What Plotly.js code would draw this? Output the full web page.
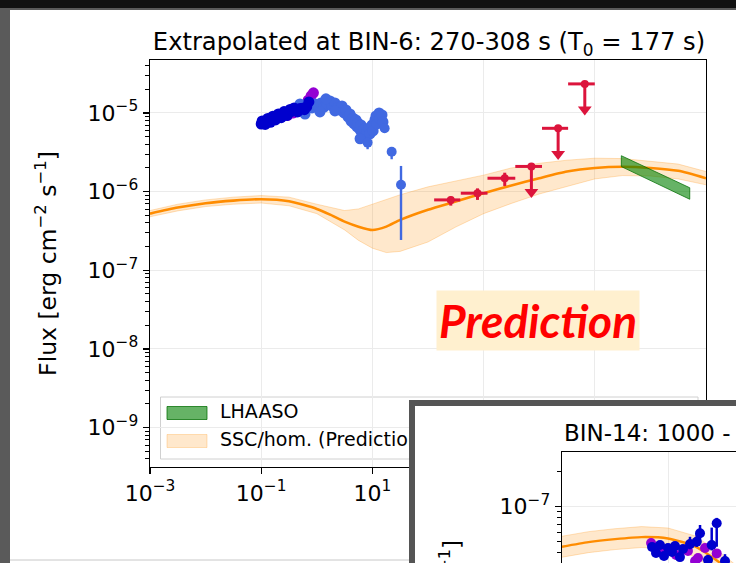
<!DOCTYPE html>
<html>
<head>
<meta charset="utf-8">
<script src="https://cdn.plot.ly/plotly-3.0.1.min.js"></script>
<style>
  html, body { margin: 0; padding: 0; background: #111; }
  #chart { width: 736px; height: 563px; }
</style>
</head>
<body>
<div id="chart"></div>
<script>
// ---------------- data: main panel (E in keV, flux in erg cm^-2 s^-1) ----------------

// SSC / homogeneous model: central curve and uncertainty band
const modelE     = [1e-3, 3.16e-3, 1e-2, 3.16e-2, 0.1, 0.316, 1, 1.78, 3.16, 5.62, 10, 17.8, 31.6, 100, 316, 1e3, 3.16e3, 1e4, 3.16e4, 1e5, 3.16e5, 1e6, 3.16e6, 1e7];
const modelF     = [5.25e-7, 6.27e-7, 7.13e-7, 7.69e-7, 8.0e-7, 7.55e-7, 6.03e-7, 5.06e-7, 4.16e-7, 3.59e-7, 3.26e-7, 3.59e-7, 4.37e-7, 5.89e-7, 7.5e-7, 9.55e-7, 1.2e-6, 1.48e-6, 1.8e-6, 2.0e-6, 2.07e-6, 2.0e-6, 1.84e-6, 1.48e-6];
const modelUpper = [5.75e-7, 6.92e-7, 7.85e-7, 8.51e-7, 8.91e-7, 8.51e-7, 6.92e-7, 6.31e-7, 5.75e-7, 6.03e-7, 6.92e-7, 7.94e-7, 9.12e-7, 1.15e-6, 1.35e-6, 1.62e-6, 2.0e-6, 2.29e-6, 2.51e-6, 2.66e-6, 2.63e-6, 2.45e-6, 2.24e-6, 1.8e-6];
const modelLower = [4.79e-7, 5.69e-7, 6.46e-7, 6.92e-7, 7.16e-7, 6.61e-7, 5.25e-7, 4.17e-7, 3.26e-7, 2.4e-7, 1.91e-7, 1.68e-7, 1.74e-7, 2.29e-7, 3.55e-7, 5.25e-7, 7.08e-7, 9.33e-7, 1.17e-6, 1.45e-6, 1.6e-6, 1.58e-6, 1.45e-6, 1.22e-6];

// X-ray spectrum, three instruments
const purpleE = [0.30, 0.38, 0.48, 0.60, 0.70, 0.79, 0.87];
const purpleF = [9.3e-6, 1.0e-5, 1.06e-5, 1.25e-5, 1.45e-5, 1.65e-5, 1.8e-5];

const royalE = [0.44, 0.499, 0.565, 0.64, 0.724, 0.82, 0.929, 1.052, 1.19, 1.35, 1.52, 1.73, 1.87, 2.12, 2.31, 2.61, 2.84, 3.08, 3.35, 3.64, 3.95, 4.12, 4.48, 4.67, 5.07, 5.28, 5.51, 5.98, 6.24, 6.50, 7.06, 7.36, 8.0, 8.69, 9.06, 9.84, 10.3, 11.1, 11.6, 12.1, 13.2, 13.7, 14.9, 15.5, 0.614, 1.14, 2.12, 1.46, 6.0];
const royalF = [1.158e-5, 1.30e-5, 1.09e-5, 1.227e-5, 1.34e-5, 1.158e-5, 1.30e-5, 1.227e-5, 1.34e-5, 1.19e-5, 1.30e-5, 1.42e-5, 1.227e-5, 1.34e-5, 1.158e-5, 1.09e-5, 1.227e-5, 1.0e-5, 1.09e-5, 8.9e-6, 9.7e-6, 7.9e-6, 8.6e-6, 7.25e-6, 8.15e-6, 6.64e-6, 7.46e-6, 6.08e-6, 7.05e-6, 5.41e-6, 6.27e-6, 5.1e-6, 5.74e-6, 6.45e-6, 5.41e-6, 7.05e-6, 5.9e-6, 8.15e-6, 9.16e-6, 7.25e-6, 1.0e-5, 8.4e-6, 9.44e-6, 7.69e-6, 9.7e-6, 1.03e-5, 1.06e-5, 1.51e-5, 4.7e-6];

// isolated high-energy X-ray bins with visible error bars
const royalErrE  = [8.2, 16.6, 22.2, 32.7];
const royalErrF  = [4.2e-6, 6.4e-6, 3.22e-6, 1.22e-6];
const royalErrLo = [3.46e-6, 5.6e-6, 2.58e-6, 2.43e-7];
const royalErrHi = [4.76e-6, 7.2e-6, 3.66e-6, 2.12e-6];

const darkE = [0.100, 0.105, 0.110, 0.116, 0.122, 0.128, 0.135, 0.142, 0.150, 0.158, 0.167, 0.176, 0.186, 0.197, 0.209, 0.222, 0.236, 0.251, 0.267, 0.285, 0.305, 0.327, 0.350, 0.376, 0.405, 0.437, 0.47, 0.51, 0.55, 0.60, 0.66, 0.72,
               0.104, 0.118, 0.131, 0.146, 0.162, 0.181, 0.203, 0.229, 0.258, 0.292, 0.33, 0.39, 0.45];
const darkF = [7.24e-6, 7.4e-6, 7.5e-6, 7.6e-6, 7.75e-6, 7.85e-6, 7.95e-6, 8.1e-6, 8.2e-6, 8.4e-6, 8.5e-6, 8.7e-6, 8.8e-6, 9.0e-6, 9.1e-6, 9.3e-6, 9.45e-6, 9.65e-6, 9.8e-6, 1.0e-5, 1.01e-5, 1.035e-5, 1.05e-5, 1.07e-5, 1.085e-5, 1.11e-5, 1.12e-5, 1.135e-5, 1.15e-5, 1.10e-5, 1.2e-5, 1.38e-5,
               7.9e-6, 7.15e-6, 8.5e-6, 7.6e-6, 9.1e-6, 8.15e-6, 9.7e-6, 8.7e-6, 1.04e-5, 9.3e-6, 1.11e-5, 1.16e-5, 1.03e-5];

// GeV detections (binned) and upper limits
const detE   = [257, 776, 2400];
const detElo = [129, 389, 1175];
const detEhi = [380, 1175, 3715];
const detF   = [7.85e-7, 9.55e-7, 1.48e-6];
const detFlo = [6.64e-7, 7.85e-7, 1.18e-6];
const detFhi = [8.65e-7, 1.10e-6, 1.74e-6];

const ulE   = [7240, 21900, 66100];
const ulElo = [3715, 11220, 33110];
const ulEhi = [11220, 33110, 100000];
const ulF   = [2.09e-6, 6.38e-6, 2.34e-5];

// LHAASO butterfly: energy ends, upper / lower flux edge
const lhaasoE  = [3.0e5, 5.1e6];
const lhaasoHi = [2.86e-6, 1.12e-6];
const lhaasoLo = [2.08e-6, 8.0e-7];

// ---------------- data: second panel (BIN-14) ----------------
const insetModelE = [1e-3, 3.16e-3, 1e-2, 3.16e-2, 0.1, 0.316, 1, 2];
const insetModelF = [4.52e-8, 4.95e-8, 5.25e-8, 5.47e-8, 5.32e-8, 4.57e-8, 3.24e-8, 2.51e-8];
const insetUpper  = [5.56e-8, 6.09e-8, 6.46e-8, 6.73e-8, 6.55e-8, 5.62e-8, 3.98e-8, 3.09e-8];
const insetLower  = [3.67e-8, 4.02e-8, 4.27e-8, 4.45e-8, 4.33e-8, 3.72e-8, 2.63e-8, 2.04e-8];

const insetPurpleE = [0.0479, 0.077, 0.1416, 0.238, 0.368, 0.83, 0.499, 0.324];
const insetPurpleF = [4.87e-8, 4.24e-8, 3.84e-8, 4.15e-8, 3.61e-8, 3.96e-8, 4.4e-8, 3.4e-8];

const insetBlueE  = [0.050, 0.0706, 0.1, 0.1355, 0.192, 0.26, 0.0594, 0.0841, 0.119, 0.168, 0.348, 0.402, 0.668, 0.83, 0.569, 1.19];
const insetBlueF  = [4.5e-8, 4.68e-8, 4.4e-8, 4.58e-8, 4.32e-8, 4.76e-8, 3.99e-8, 3.76e-8, 4.07e-8, 3.68e-8, 4.99e-8, 5.9e-8, 4.68e-8, 7.19e-8, 3.47e-8, 3.4e-8];
const insetBlueLo = [4.2e-8, 4.4e-8, 4.1e-8, 4.3e-8, 4.0e-8, 4.3e-8, 3.7e-8, 3.5e-8, 3.8e-8, 3.4e-8, 4.5e-8, 4.86e-8, 4.2e-8, 4.52e-8, 3.1e-8, 2.9e-8];
const insetBlueHi = [4.8e-8, 5.0e-8, 4.7e-8, 4.9e-8, 4.65e-8, 5.5e-8, 4.3e-8, 4.05e-8, 4.35e-8, 3.95e-8, 5.9e-8, 6.95e-8, 6.6e-8, 8.0e-8, 3.85e-8, 3.9e-8];

// ---------------- tick labels ----------------
const xTickExp = [-3, -1, 1, 3, 5, 7];
const yTickExp = [-9, -8, -7, -6, -5];
const insetYTickExp = [-7];

// ---------------- helpers ----------------
const W = 736, H = 563;
const fx = v => v / W;          // horizontal pixel -> paper fraction
const fy = v => 1 - v / H;      // vertical pixel -> paper fraction
const sup = e => '10<sup>' + (e < 0 ? '\u2212' + (-e) : e) + '</sup>';
const minorTicks = (e0, e1) => {
  const out = [];
  for (let e = e0; e <= e1; e++) for (let k = 2; k <= 9; k++) out.push(k * Math.pow(10, e));
  return out;
};
// main-axes mapping (for placing the hand-made legend / label text)
const mainX = p => Math.pow(10, -3 + (p - 150) / 55.6);
const mainY = p => Math.pow(10, -5 - (p - 113) / 78.7);

const FONT = 'DejaVu Sans';
const ORANGE = '#ff8c00';
const RED = '#dc143c';
const DOT = 11;

const plusMinus = (v, lo, hi) => ({
  type: 'data', symmetric: false,
  array: v.map((x, i) => hi[i] - x),
  arrayminus: v.map((x, i) => x - lo[i])
});

// arrow length of upper limits (in decades)
const UL_DROP = 0.325;
const ulTip = ulF.map(f => f * Math.pow(10, -UL_DROP));

const traces = [
  // model band
  { x: modelE, y: modelLower, mode: 'lines', line: { color: 'rgba(255,140,0,0.25)', width: 1 },
    hoverinfo: 'skip', xaxis: 'x', yaxis: 'y' },
  { x: modelE, y: modelUpper, mode: 'lines', fill: 'tonexty', fillcolor: 'rgba(255,140,0,0.2)',
    line: { color: 'rgba(255,140,0,0.25)', width: 1 }, hoverinfo: 'skip', xaxis: 'x', yaxis: 'y' },
  { x: modelE, y: modelF, mode: 'lines', line: { color: ORANGE, width: 2.6, shape: 'spline', smoothing: 0.6 },
    xaxis: 'x', yaxis: 'y', name: 'SSC/hom.' },

  // LHAASO butterfly
  { x: [lhaasoE[0], lhaasoE[1], lhaasoE[1], lhaasoE[0], lhaasoE[0]],
    y: [lhaasoHi[0], lhaasoHi[1], lhaasoLo[1], lhaasoLo[0], lhaasoHi[0]],
    mode: 'lines', fill: 'toself', fillcolor: 'rgba(0,128,0,0.6)',
    line: { color: 'rgba(0,110,0,0.75)', width: 1 }, xaxis: 'x', yaxis: 'y', name: 'LHAASO' },

  // X-ray data
  { x: purpleE, y: purpleF, mode: 'markers', marker: { color: '#9400d3', size: DOT }, xaxis: 'x', yaxis: 'y' },
  { x: royalE, y: royalF, mode: 'markers', marker: { color: '#4169e1', size: DOT }, xaxis: 'x', yaxis: 'y' },
  { x: royalErrE, y: royalErrF, mode: 'markers', marker: { color: '#4169e1', size: 10 },
    error_y: Object.assign(plusMinus(royalErrF, royalErrLo, royalErrHi), { color: '#4169e1', thickness: 2.4, width: 0 }),
    xaxis: 'x', yaxis: 'y' },
  { x: darkE, y: darkF, mode: 'markers', marker: { color: '#0000cd', size: DOT }, xaxis: 'x', yaxis: 'y' },

  // GeV detections
  { x: detE, y: detF, mode: 'markers', marker: { color: RED, size: 8 },
    error_x: Object.assign(plusMinus(detE, detElo, detEhi), { color: RED, thickness: 3, width: 0 }),
    error_y: Object.assign(plusMinus(detF, detFlo, detFhi), { color: RED, thickness: 3, width: 0 }),
    xaxis: 'x', yaxis: 'y' },
  // upper limits: bar + stem + arrow head
  { x: ulE, y: ulF, mode: 'markers', marker: { color: RED, size: 8 },
    error_x: Object.assign(plusMinus(ulE, ulElo, ulEhi), { color: RED, thickness: 3, width: 0 }),
    error_y: { type: 'data', symmetric: false, array: ulF.map(() => 0),
               arrayminus: ulF.map((f, i) => f - ulTip[i]), color: RED, thickness: 3, width: 0 },
    xaxis: 'x', yaxis: 'y' },
  { x: ulE, y: ulTip, mode: 'markers', marker: { color: RED, size: 12, symbol: 'triangle-down' },
    xaxis: 'x', yaxis: 'y' },

  // legend text and x-axis label (drawn as text so the second panel can cover them)
  { x: [mainX(220), mainX(220)], y: [mainY(413), mainY(441)], mode: 'text',
    text: ['LHAASO', 'SSC/hom. (Prediction)'], textposition: 'middle right',
    textfont: { family: FONT, size: 19, color: '#000' }, cliponaxis: false, xaxis: 'x', yaxis: 'y' },
  { x: [mainX(425)], y: [mainY(528)], mode: 'text', text: ['E [keV]'], textposition: 'middle center',
    textfont: { family: FONT, size: 22, color: '#000' }, cliponaxis: false, xaxis: 'x', yaxis: 'y' },

  // empty trace that creates the panel cover subplot
  { x: [0.5], y: [0.5], mode: 'markers', marker: { opacity: 0 }, xaxis: 'x2', yaxis: 'y2', hoverinfo: 'skip' },

  // second panel
  { x: insetModelE, y: insetLower, mode: 'lines', line: { color: 'rgba(255,140,0,0.25)', width: 1 },
    xaxis: 'x3', yaxis: 'y3' },
  { x: insetModelE, y: insetUpper, mode: 'lines', fill: 'tonexty', fillcolor: 'rgba(255,140,0,0.2)',
    line: { color: 'rgba(255,140,0,0.25)', width: 1 }, xaxis: 'x3', yaxis: 'y3' },
  { x: insetModelE, y: insetModelF, mode: 'lines', line: { color: ORANGE, width: 2.4, shape: 'spline', smoothing: 0.6 },
    xaxis: 'x3', yaxis: 'y3' },
  { x: insetPurpleE, y: insetPurpleF, mode: 'markers', marker: { color: '#9400d3', size: 10 }, xaxis: 'x3', yaxis: 'y3' },
  { x: insetBlueE, y: insetBlueF, mode: 'markers', marker: { color: '#0000cd', size: 10 },
    error_y: Object.assign(plusMinus(insetBlueF, insetBlueLo, insetBlueHi), { color: '#0000cd', thickness: 2.5, width: 0 }),
    xaxis: 'x3', yaxis: 'y3' }
];

const axisCommon = {
  type: 'log', showline: true, linecolor: '#000', linewidth: 1.3,
  ticks: 'outside', ticklen: 6, tickwidth: 1.2, tickcolor: '#000',
  showgrid: true, gridcolor: '#ebebeb', gridwidth: 1, zeroline: false,
  tickfont: { family: FONT, size: 22, color: '#000' }
};

const layout = {
  width: W, height: H,
  margin: { l: 0, r: 0, t: 0, b: 0, pad: 0 },
  paper_bgcolor: '#111', plot_bgcolor: '#ffffff',
  showlegend: false,
  font: { family: FONT, color: '#000' },
  title: {
    text: 'Extrapolated at BIN-6: 270-308 s (T<sub>0</sub> = 177 s)',
    x: fx(429), xanchor: 'center', y: fy(42), yanchor: 'middle',
    font: { family: FONT, size: 24.2, color: '#000' }
  },
  xaxis: Object.assign({}, axisCommon, {
    domain: [fx(150), fx(706)], range: [-3, 7], anchor: 'y', mirror: true,
    tickmode: 'array', tickvals: xTickExp.map(e => Math.pow(10, e)), ticktext: xTickExp.map(sup)
  }),
  yaxis: Object.assign({}, axisCommon, {
    domain: [fy(467), fy(60)], range: [-9.5, -4.327], anchor: 'x', mirror: true,
    tickmode: 'array', tickvals: yTickExp.map(e => Math.pow(10, e)), ticktext: yTickExp.map(sup),
    minor: { tickmode: 'array', tickvals: minorTicks(-10, -5), ticks: 'outside', ticklen: 3.5, tickwidth: 1, tickcolor: '#000', showgrid: false },
    title: { text: 'Flux [erg cm<sup>\u22122</sup> s<sup>\u22121</sup>]', standoff: 24,
             font: { family: FONT, size: 23.5, color: '#000' } }
  }),
  // white cover for the second panel
  xaxis2: { domain: [fx(409), 1], range: [0, 1], anchor: 'y2', visible: false },
  yaxis2: { domain: [0, fy(400)], range: [0, 1], anchor: 'x2', visible: false },
  // second panel axes
  xaxis3: Object.assign({}, axisCommon, {
    domain: [fx(562), 1], range: [-3, 0.283], anchor: 'y3', side: 'top',
    ticks: '', showticklabels: false, tickmode: 'array', tickvals: [1e-3, 1e-1]
  }),
  yaxis3: Object.assign({}, axisCommon, {
    domain: [0, fy(452)], range: [-7.485, -6.53], anchor: 'x3',
    tickmode: 'array', tickvals: insetYTickExp.map(e => Math.pow(10, e)), ticktext: insetYTickExp.map(sup),
    minor: { tickmode: 'array', tickvals: minorTicks(-8, -7), ticks: 'outside', ticklen: 3.5, tickwidth: 1, tickcolor: '#000', showgrid: false }
  }),
  shapes: [
    // dark frame around the white sheet
    { type: 'rect', xref: 'paper', yref: 'paper', x0: 0, x1: 1, y0: 0, y1: fy(8), fillcolor: '#5a5a5a', line: { width: 0 }, layer: 'below' },
    { type: 'rect', xref: 'paper', yref: 'paper', x0: fx(10), x1: 1, y0: 0, y1: fy(10), fillcolor: '#ffffff', line: { width: 0 }, layer: 'below' },
    { type: 'line', xref: 'paper', yref: 'paper', x0: fx(10), x1: 1, y0: fy(560), y1: fy(560), line: { color: '#c8c8c8', width: 1 }, layer: 'below' },
    // legend box and swatches
    { type: 'rect', xref: 'paper', yref: 'paper', x0: fx(160.5), x1: fx(698), y0: fy(459), y1: fy(397),
      fillcolor: 'rgba(255,255,255,0.85)', line: { color: '#d0d0d0', width: 1 }, layer: 'below' },
    { type: 'rect', xref: 'paper', yref: 'paper', x0: fx(167), x1: fx(207), y0: fy(419.5), y1: fy(406.5),
      fillcolor: 'rgba(0,128,0,0.6)', line: { color: 'rgba(0,110,0,0.75)', width: 1 }, layer: 'below' },
    { type: 'rect', xref: 'paper', yref: 'paper', x0: fx(167), x1: fx(207), y0: fy(447.5), y1: fy(434.5),
      fillcolor: 'rgba(255,140,0,0.2)', line: { color: 'rgba(255,140,0,0.25)', width: 1 }, layer: 'below' },
    // grey border of the second panel
    { type: 'rect', xref: 'paper', yref: 'paper', x0: fx(412), x1: fx(760), y0: fy(590), y1: fy(403),
      fillcolor: 'rgba(0,0,0,0)', line: { color: '#555555', width: 6 }, layer: 'above' }
  ],
  annotations: [
    { text: '<b><i>Prediction</i></b>', xref: 'paper', yref: 'paper', x: fx(538), y: fy(320),
      xanchor: 'center', yanchor: 'middle', showarrow: false, bgcolor: '#fff0cf', borderpad: 2,
      font: { family: 'Lato', size: 46, color: '#ff0000' } },
    { text: 'BIN-14: 1000 - 2000 s', xref: 'paper', yref: 'paper', x: fx(562), y: fy(433),
      xanchor: 'left', yanchor: 'middle', showarrow: false,
      font: { family: FONT, size: 23, color: '#000' } },
    { text: 'Flux [erg cm<sup>\u22122</sup> s<sup>\u22121</sup>]', xref: 'paper', yref: 'paper', x: fx(450), y: fy(538),
      xanchor: 'center', yanchor: 'top', textangle: -90, showarrow: false,
      font: { family: FONT, size: 23, color: '#000' } }
  ]
};

Plotly.newPlot('chart', traces, layout, { displayModeBar: false, staticPlot: true });
</script>
</body>
</html>
